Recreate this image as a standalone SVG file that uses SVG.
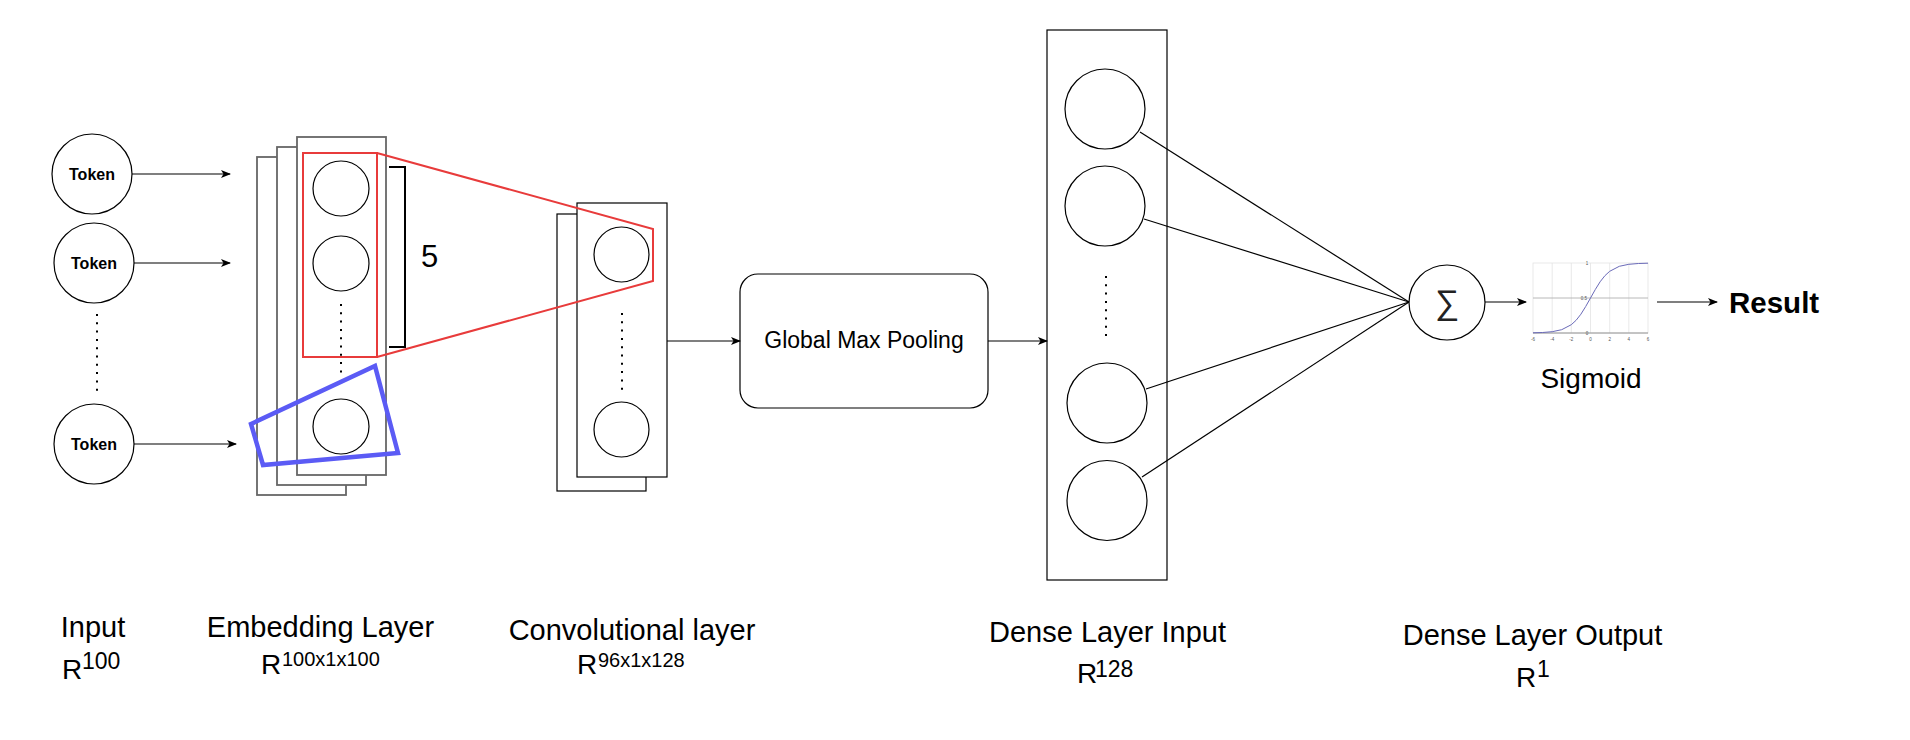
<svg xmlns="http://www.w3.org/2000/svg" width="1910" height="740" viewBox="0 0 1910 740">
<style>
  text { font-family: "Liberation Sans", Arial, sans-serif; fill: #000; }
  .tok { font-size: 16px; font-weight: bold; text-anchor: middle; }
  .lbl { font-size: 29px; text-anchor: middle; }
  .big { font-size: 28px; }
  .sup { font-size: 20px; }
  .node { fill: #fff; stroke: #000; stroke-width: 1.2; }
  .gbox { fill: #fff; stroke: #666; stroke-width: 1.8; }
  .box { fill: #fff; stroke: #000; stroke-width: 1.2; }
  .dots { stroke: #000; stroke-width: 2; stroke-dasharray: 2 6.3; fill: none; }
  .conn { stroke: #000; stroke-width: 1.2; fill: none; }
  .arr { marker-end: url(#ah); }
  .grid { stroke: #e3e3e3; stroke-width: 0.8; }
  .tick { font-size: 4.5px; fill: #555; text-anchor: middle; }
</style>
<defs>
  <marker id="ah" viewBox="0 0 10 8" refX="9" refY="4" markerWidth="10" markerHeight="8" markerUnits="userSpaceOnUse" orient="auto">
    <path d="M0,0 L10,4 L0,8 L2.5,4 z" fill="#000"/>
  </marker>
</defs>
<rect width="1910" height="740" fill="#fff"/>

<g id="token1">
  <circle class="node" cx="92" cy="174" r="40"/>
  <text class="tok" x="92" y="179.5">Token</text>
</g>
<g id="token2">
  <circle class="node" cx="94" cy="263" r="40"/>
  <text class="tok" x="94" y="268.5">Token</text>
</g>
<line class="dots" x1="97" y1="314" x2="97" y2="396"/>
<g id="token3">
  <circle class="node" cx="94" cy="444" r="40"/>
  <text class="tok" x="94" y="449.5">Token</text>
</g>

<g id="embedding">
  <rect class="gbox" x="257" y="157" width="89" height="338"/>
  <rect class="gbox" x="277" y="147" width="89" height="338"/>
  <rect class="gbox" x="297" y="137" width="89" height="338"/>
  <ellipse class="node" cx="341" cy="188.5" rx="28" ry="27.5"/>
  <ellipse class="node" cx="341" cy="263.5" rx="28" ry="27.5"/>
  <line class="dots" x1="341" y1="304" x2="341" y2="378"/>
  <ellipse class="node" cx="341" cy="426.5" rx="28" ry="27.5"/>
</g>

<g id="conv">
  <rect class="box" x="557" y="214" width="89" height="277"/>
  <rect class="box" x="577" y="203" width="90" height="274"/>
  <ellipse class="node" cx="621.5" cy="254.5" rx="27.5" ry="27.5"/>
  <line class="dots" x1="622" y1="313" x2="622" y2="394"/>
  <ellipse class="node" cx="621.5" cy="429.5" rx="27.5" ry="27.5"/>
</g>

<g id="window">
  <polygon points="251,424 375,366 398,453 263,465" fill="none" stroke="#5b5bf5" stroke-width="4.5" stroke-linejoin="miter"/>
  <polyline points="377,153 653,229 653,281 377,357" fill="none" stroke="#e83b3b" stroke-width="2"/>
  <rect x="303" y="153" width="74" height="204" fill="none" stroke="#e83b3b" stroke-width="2"/>
  <polyline points="389,167 405,167 405,347 389,347" fill="none" stroke="#000" stroke-width="2"/>
  <text x="421" y="267" style="font-size:31px">5</text>
</g>

<g id="gmp">
  <rect class="box" x="740" y="274" width="248" height="134" rx="18" ry="18"/>
  <text x="864" y="348" style="font-size:23px" text-anchor="middle">Global Max Pooling</text>
</g>

<g id="dense">
  <rect class="box" x="1047" y="30" width="120" height="550"/>
  <circle class="node" cx="1105" cy="109" r="40"/>
  <circle class="node" cx="1105" cy="206" r="40"/>
  <line class="dots" x1="1106" y1="276" x2="1106" y2="341"/>
  <circle class="node" cx="1107" cy="403" r="40"/>
  <circle class="node" cx="1107" cy="500.5" r="40"/>
</g>

<g id="sigma">
  <ellipse class="node" cx="1447" cy="302.5" rx="38" ry="37.5"/>
  <text x="1447" y="314" style="font-size:34px;font-family:'DejaVu Sans',sans-serif;font-weight:200;fill:#222" text-anchor="middle">∑</text>
</g>

<g id="sigmoid">
  <rect x="1533" y="263" width="115" height="70" fill="#fff" stroke="#e3e3e3" stroke-width="0.8"/>
  <line class="grid" x1="1552.2" y1="263" x2="1552.2" y2="333"/>
  <line class="grid" x1="1571.3" y1="263" x2="1571.3" y2="333"/>
  <line class="grid" x1="1590.5" y1="263" x2="1590.5" y2="333"/>
  <line class="grid" x1="1609.7" y1="263" x2="1609.7" y2="333"/>
  <line class="grid" x1="1628.8" y1="263" x2="1628.8" y2="333"/>
  <line x1="1533" y1="298" x2="1648" y2="298" stroke="#b0b0b0" stroke-width="0.9"/>
  <line x1="1533" y1="333" x2="1648" y2="333" stroke="#888" stroke-width="0.9"/>
  <polyline fill="none" stroke="#6a6ab8" stroke-width="1" points="1533,332.8 1542.6,332.5 1552.2,331.7 1561.7,329.7 1571.3,324.7 1576.1,320.3 1580.9,314.2 1585.7,306.5 1590.5,298 1595.3,289.5 1600.1,281.8 1604.9,275.7 1609.7,271.3 1619.3,266.3 1628.8,264.3 1638.4,263.5 1648,263.2"/>
  <text class="tick" x="1533" y="341">-6</text>
  <text class="tick" x="1552.2" y="341">-4</text>
  <text class="tick" x="1571.3" y="341">-2</text>
  <text class="tick" x="1590.5" y="341">0</text>
  <text class="tick" x="1609.7" y="341">2</text>
  <text class="tick" x="1628.8" y="341">4</text>
  <text class="tick" x="1648" y="341">6</text>
  <text class="tick" x="1587" y="265">1</text>
  <text class="tick" x="1584" y="299.5">0.5</text>
  <text class="tick" x="1587" y="334.5">0</text>
  <text x="1591" y="388" style="font-size:28px" text-anchor="middle">Sigmoid</text>
</g>

<g id="result">
  <text x="1729" y="313" style="font-size:29.5px;font-weight:bold">Result</text>
</g>

<g id="connectors">
  <line class="conn arr" x1="132" y1="174" x2="230" y2="174"/>
  <line class="conn arr" x1="134" y1="263" x2="230" y2="263"/>
  <line class="conn arr" x1="134" y1="444" x2="236" y2="444"/>
  <line class="conn arr" x1="667" y1="341" x2="740" y2="341"/>
  <line class="conn arr" x1="988" y1="341" x2="1047" y2="341"/>
  <line class="conn" x1="1140" y1="132" x2="1409" y2="302"/>
  <line class="conn" x1="1144" y1="219" x2="1409" y2="302"/>
  <line class="conn" x1="1146" y1="389" x2="1409" y2="302"/>
  <line class="conn" x1="1142" y1="477" x2="1409" y2="302"/>
  <line class="conn arr" x1="1485" y1="302" x2="1526" y2="302"/>
  <line class="conn arr" x1="1657" y1="302" x2="1717" y2="302"/>
</g>

<g id="labels">
  <text class="lbl" x="93" y="637">Input</text>
  <text class="big" x="62" y="679">R</text>
  <text class="sup" x="82" y="669" style="font-size:23px">100</text>

  <text class="lbl" x="320.5" y="637">Embedding Layer</text>
  <text class="big" x="261" y="674">R</text>
  <text class="sup" x="282" y="666">100x1x100</text>

  <text class="lbl" x="632" y="640">Convolutional layer</text>
  <text class="big" x="577" y="674">R</text>
  <text class="sup" x="598" y="667">96x1x128</text>

  <text class="lbl" x="1107.5" y="642">Dense Layer Input</text>
  <text class="big" x="1077" y="683">R</text>
  <text class="sup" x="1095" y="677" style="font-size:23px">128</text>

  <text class="lbl" x="1532.5" y="645">Dense Layer Output</text>
  <text class="big" x="1516" y="687">R</text>
  <text class="sup" x="1537" y="677" style="font-size:23px">1</text>
</g>
</svg>
